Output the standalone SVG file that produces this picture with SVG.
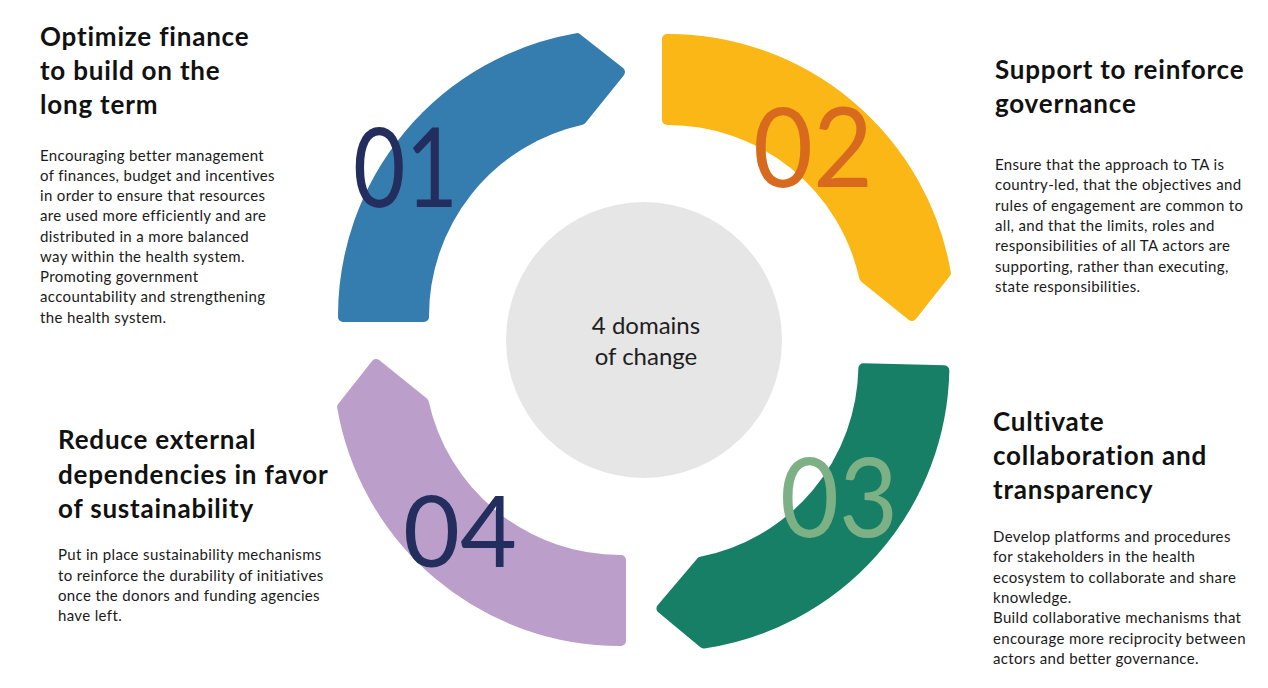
<svg xmlns="http://www.w3.org/2000/svg" xmlns:xlink="http://www.w3.org/1999/xlink" width="1268" height="688" viewBox="0 0 1268 688">
<style>
.seg{stroke-width:10;stroke-linejoin:round}
.s1{fill:#357DAF;stroke:#357DAF}
.s2{fill:#FBB716;stroke:#FBB716}
.s3{fill:#177F66;stroke:#177F66}
.s4{fill:#BB9FCA;stroke:#BB9FCA}
.num{font-family:Lato,"Liberation Sans",sans-serif;font-weight:400}
.title{font-family:Lato,"Liberation Sans",sans-serif;font-weight:700;font-size:26px;fill:#111;letter-spacing:0.8px}
.body{font-family:Lato,"Liberation Sans",sans-serif;font-size:15px;fill:#1a1a1a;letter-spacing:0.35px}
.center{font-family:Lato,"Liberation Sans",sans-serif;font-size:24px;fill:#1e1e1e;text-anchor:middle}
</style>
<defs>
<path id="seg" d="M343,317 A282,282 0 0 1 577,38.1 L620,72 L581.5,119.8 A201,201 0 0 0 424,317 Z"/>
</defs>
<rect width="1268" height="688" fill="#fff"/>
<g id="center">
<circle cx="644" cy="340" r="138" fill="#E6E6E6"/>
<text class="center" x="646" y="334">4 domains</text>
<text class="center" x="646" y="365">of change</text>
</g>
<g id="domain1">
<use href="#seg" class="seg s1"/>
<text class="num" x="353" y="207" font-size="110" fill="#232D5E" textLength="105" lengthAdjust="spacingAndGlyphs">01</text>
<text class="title" x="40" y="46">Optimize finance</text>
<text class="title" x="40" y="80">to build on the</text>
<text class="title" x="40" y="114">long term</text>
<text class="body" x="40" y="161">Encouraging better management</text>
<text class="body" x="40" y="181">of finances, budget and incentives</text>
<text class="body" x="40" y="201">in order to ensure that resources</text>
<text class="body" x="40" y="221">are used more efficiently and are</text>
<text class="body" x="40" y="242">distributed in a more balanced</text>
<text class="body" x="40" y="262">way within the health system.</text>
<text class="body" x="40" y="282">Promoting government</text>
<text class="body" x="40" y="302">accountability and strengthening</text>
<text class="body" x="40" y="323">the health system.</text>
</g>
<g id="domain2">
<use href="#seg" class="seg s2" transform="rotate(90 644 340)"/>
<text class="num" x="753" y="187" font-size="110" fill="#D86A1E" textLength="120" lengthAdjust="spacingAndGlyphs">02</text>
<text class="title" x="995" y="79">Support to reinforce</text>
<text class="title" x="995" y="113">governance</text>
<text class="body" x="995" y="170">Ensure that the approach to TA is</text>
<text class="body" x="995" y="190">country-led, that the objectives and</text>
<text class="body" x="995" y="211">rules of engagement are common to</text>
<text class="body" x="995" y="231">all, and that the limits, roles and</text>
<text class="body" x="995" y="251">responsibilities of all TA actors are</text>
<text class="body" x="995" y="272">supporting, rather than executing,</text>
<text class="body" x="995" y="292">state responsibilities.</text>
</g>
<g id="domain3">
<use href="#seg" class="seg s3" transform="rotate(181.4 644 340)"/>
<text class="num" x="780" y="537" font-size="110" fill="#7DB185" textLength="118" lengthAdjust="spacingAndGlyphs">03</text>
<text class="title" x="993" y="431">Cultivate</text>
<text class="title" x="993" y="465">collaboration and</text>
<text class="title" x="993" y="499">transparency</text>
<text class="body" x="993" y="542">Develop platforms and procedures</text>
<text class="body" x="993" y="562">for stakeholders in the health</text>
<text class="body" x="993" y="583">ecosystem to collaborate and share</text>
<text class="body" x="993" y="603">knowledge.</text>
<text class="body" x="993" y="623">Build collaborative mechanisms that</text>
<text class="body" x="993" y="644">encourage more reciprocity between</text>
<text class="body" x="993" y="664">actors and better governance.</text>
</g>
<g id="domain4">
<use href="#seg" class="seg s4" transform="rotate(270 644 340)"/>
<text class="num" x="403" y="567" font-size="98" fill="#232D5E" textLength="114" lengthAdjust="spacingAndGlyphs">04</text>
<text class="title" x="58" y="449">Reduce external</text>
<text class="title" x="58" y="484">dependencies in favor</text>
<text class="title" x="58" y="518">of sustainability</text>
<text class="body" x="58" y="560">Put in place sustainability mechanisms</text>
<text class="body" x="58" y="581">to reinforce the durability of initiatives</text>
<text class="body" x="58" y="601">once the donors and funding agencies</text>
<text class="body" x="58" y="621">have left.</text>
</g>
<g id="connectors"/>
</svg>
